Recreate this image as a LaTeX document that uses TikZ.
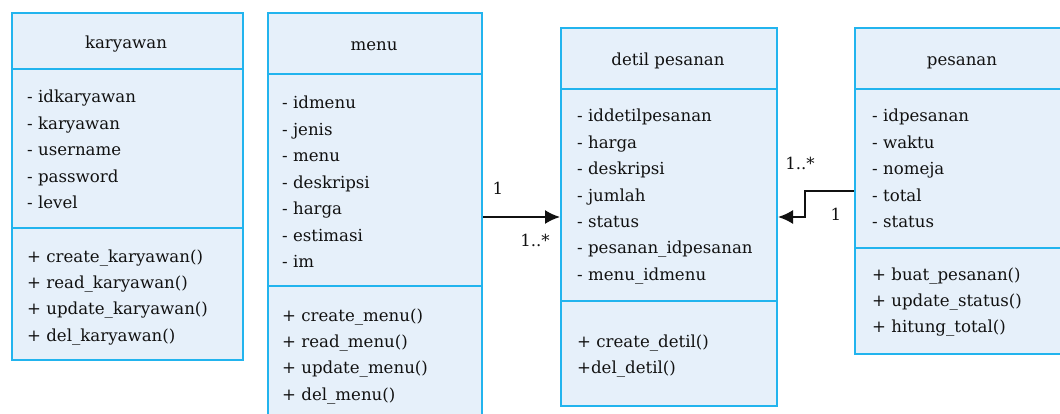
\documentclass[tikz,border=0pt]{standalone}
\usepackage{fontspec}
\setmainfont{DejaVu Serif}
\usetikzlibrary{arrows.meta,calc}
\definecolor{boxfill}{HTML}{E6F0FA}
\definecolor{boxline}{HTML}{22B4EE}
\definecolor{ink}{HTML}{111111}
\begin{document}
\begin{tikzpicture}[x=1pt,y=-1pt,
  classbox/.style={draw=boxline,fill=boxfill,line width=2pt,anchor=north west,inner sep=0pt},
  sepline/.style={draw=boxline,line width=2pt},
  txt/.style={anchor=base west,inner sep=0pt,font=\fontsize{16.6}{18}\selectfont,text=ink},
  ttl/.style={anchor=base,inner sep=0pt,font=\fontsize{16.6}{18}\selectfont,text=ink},
  lbl/.style={inner sep=0pt,font=\fontsize{16.6}{18}\selectfont,text=ink},
  assoc/.style={draw=ink,line width=1.8pt,-{Latex[length=15pt,width=14pt]}}]
\useasboundingbox (0,0) rectangle (1060,414);
\clip (0,0) rectangle (1060,414);
% boxes
\node[classbox,minimum width=231pt,minimum height=347pt] (kary) at (11,12) {};
\node[classbox,minimum width=214pt,minimum height=420pt] (menu) at (267,12) {};
\node[classbox,minimum width=216pt,minimum height=378pt] (detil) at (560,27) {};
\node[classbox,minimum width=216pt,minimum height=326pt] (pesanan) at (854,27) {};
% separators
\draw[sepline] (11,69) -- (242,69) (11,228) -- (242,228);
\draw[sepline] (267,74) -- (481,74) (267,286) -- (481,286);
\draw[sepline] (560,89) -- (776,89) (560,301) -- (776,301);
\draw[sepline] (854,89) -- (1070,89) (854,248) -- (1070,248);
% titles
\node[ttl] (karyT) at (126,49) {karyawan};
\node[ttl] (menuT) at (374,51) {menu};
\node[ttl] (detilT) at (668,66) {detil pesanan};
\node[ttl] (pesT) at (962,66) {pesanan};
% karyawan
\foreach \t [count=\i] in {- idkaryawan,- karyawan,- username,- password,- level}
  \node[txt] (ka\i) at (27,{103+26.4*(\i-1)}) {\t};
\foreach \t [count=\i] in {+ create\_karyawan(),+ read\_karyawan(),+ update\_karyawan(),+ del\_karyawan()}
  \node[txt] (km\i) at (27,{262+26.4*(\i-1)}) {\t};
% menu
\foreach \t [count=\i] in {- idmenu,- jenis,- menu,- deskripsi,- harga,- estimasi,- im}
  \node[txt] (ma\i) at (282,{109+26.4*(\i-1)}) {\t};
\foreach \t [count=\i] in {+ create\_menu(),+ read\_menu(),+ update\_menu(),+ del\_menu()}
  \node[txt] (mm\i) at (282,{321+26.4*(\i-1)}) {\t};
% detil
\foreach \t [count=\i] in {- iddetilpesanan,- harga,- deskripsi,- jumlah,- status,- pesanan\_idpesanan,- menu\_idmenu}
  \node[txt] (da\i) at (577,{122+26.4*(\i-1)}) {\t};
\foreach \t [count=\i] in {+ create\_detil(),+del\_detil()}
  \node[txt] (dm\i) at (577,{347+26.4*(\i-1)}) {\t};
% pesanan
\foreach \t [count=\i] in {- idpesanan,- waktu,- nomeja,- total,- status}
  \node[txt] (pa\i) at (872,{122+26.4*(\i-1)}) {\t};
\foreach \t [count=\i] in {+ buat\_pesanan(),+ update\_status(),+ hitung\_total()}
  \node[txt] (pm\i) at (872,{280+26.4*(\i-1)}) {\t};
% connectors
\draw[assoc] (menu.east |- detil.west) -- (detil.west);
\draw[assoc] ([yshift=26pt]detil.east -| pesanan.west) -- ++(-49,0) |- (detil.east);
% multiplicities
\node[lbl] (m1) at (498,188) {1};
\node[lbl] (m2) at (535,240) {1..*};
\node[lbl] (m3) at (800,163) {1..*};
\node[lbl] (m4) at (836,214) {1};
\end{tikzpicture}
\end{document}
